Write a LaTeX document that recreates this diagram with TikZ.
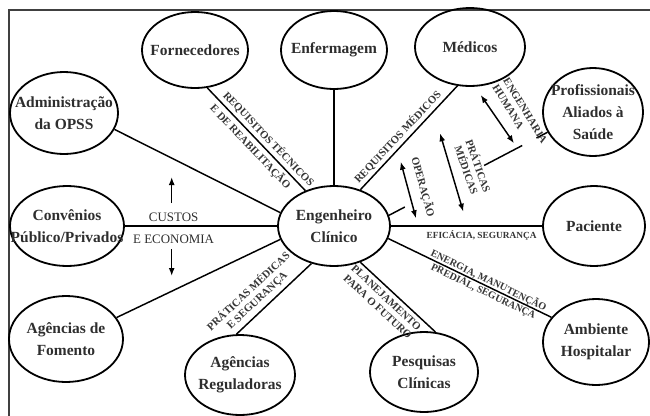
\documentclass[tikz,border=0pt]{standalone}
\usepackage{fontspec}
\setmainfont{Liberation Serif}
\usetikzlibrary{shapes.geometric,arrows.meta,calc}
\definecolor{txt}{HTML}{2E2E2E}
\definecolor{labc}{HTML}{363636}
\definecolor{framec}{HTML}{404040}
\begin{document}
\begin{tikzpicture}[x=0.75pt,y=-0.75pt,
  ent/.style={ellipse, draw, line width=1.35pt, inner sep=0pt},
  enttext/.style={align=center, font=\bfseries\fontsize{11.6}{16.5}\selectfont, text=txt, inner sep=0pt},
  wh/.style 2 args={minimum width=#1*0.75pt, minimum height=#2*0.75pt},
  conn/.style={line width=1.1pt},
  lbl/.style={font=\bfseries\fontsize{8.1}{9.4}\selectfont, text=labc, inner sep=1pt},
  cust/.style={font=\fontsize{9.7}{11}\selectfont, text=txt, inner sep=1pt},
  dbl/.style={line width=1.1pt, {Latex[length=6pt,width=4.5pt]}-{Latex[length=6pt,width=4.5pt]}},
  sgl/.style={line width=1.1pt, -{Latex[length=6pt,width=4.5pt]}}
]
\useasboundingbox (0,0) rectangle (650,415);
\draw[framec, line width=1.5pt] (9,418) -- (9,10) -- (653,10);

% entities
\node[ent, wh={106}{76}, label={[enttext]center:{Fornecedores}}] (forn) at (195,50) {};
\node[ent, wh={106}{78}, label={[enttext]center:{Enfermagem}}] (enf) at (334,50) {};
\node[ent, wh={110}{78}, label={[enttext]center:{Médicos}}] (med) at (470,47) {};
\node[ent, wh={108}{82}, label={[enttext]center:{Administração\\da OPSS}}] (adm) at (64,113) {};
\node[ent, wh={100}{88}, label={[enttext]center:{Profissionais\\Aliados à\\Saúde}}] (prof) at (593,112) {};
\node[ent, wh={114}{80}, label={[enttext]center:{Convênios\\Público/Privados}}] (conv) at (67,226) {};
\node[ent, wh={112}{80}, label={[enttext]center:{Engenheiro\\Clínico}}] (eng) at (334,226) {};
\node[ent, wh={102}{80}, label={[enttext]center:{Paciente}}] (pac) at (594,226) {};
\node[ent, wh={114}{86}, label={[enttext]center:{Agências de\\Fomento}}] (fom) at (66,339) {};
\node[ent, wh={110}{80}, label={[enttext]center:{Agências\\Reguladoras}}] (reg) at (240,375) {};
\node[ent, wh={108}{80}, label={[enttext]center:{Pesquisas\\Clínicas}}] (pesq) at (424,372) {};
\node[ent, wh={106}{86}, label={[enttext]center:{Ambiente\\Hospitalar}}] (amb) at (596,342) {};

% connectors
\draw[conn] (forn.-72) -- node[lbl, sloped, above=1.2pt, pos=0.56]{REQUISITOS TÉCNICOS}
  node[lbl, sloped, below=1.2pt, pos=0.51]{E DE REABILITAÇÃO} (eng.129);
\draw[conn] (enf.south) -- (eng.north);
\draw[conn] (eng.54) -- node[lbl, sloped, above=1pt, pos=0.45]{REQUISITOS MÉDICOS} (med.-108);
\draw[conn] (adm.-18) -- (eng.166);
\draw[conn] (conv.east) -- node[cust, above=1.8pt, pos=0.32]{CUSTOS}
  node[cust, below=5pt, pos=0.32]{E ECONOMIA} (eng.west);
\draw[conn] (eng.east) -- node[lbl, font=\bfseries\fontsize{7}{8}\selectfont, below=2pt, pos=0.6]{EFICÁCIA, SEGURANÇA} (pac.west);
\draw[conn] (fom.23) -- (eng.194);
\draw[conn] (reg.95) -- node[lbl, sloped, above=2pt, pos=0.37, align=center]{PRÁTICAS MÉDICAS\\E SEGURANÇA} (eng.-121);
\draw[conn] (eng.-54) -- node[lbl, sloped, below=2pt, pos=0.42, align=center]{PLANEJAMENTO\\PARA O FUTURO} (pesq.74);
\draw[conn] (eng.-13) -- node[lbl, sloped, pos=0.6, align=center, font=\bfseries\fontsize{7.6}{9}\selectfont]{ENERGIA, MANUTENÇÃO\\PREDIAL, SEGURANÇA} (amb.151);

% engineer -- professionals (partly hidden behind labels)
\coordinate (q1) at ($(eng.11)!0.1!(prof.-156)$);
\coordinate (q2) at ($(eng.11)!0.6!(prof.-156)$);
\coordinate (q3) at ($(eng.11)!0.84!(prof.-156)$);
\coordinate (q4) at ($(eng.11)!0.93!(prof.-156)$);
\draw[conn] (eng.11) -- (q1);
\draw[conn] (q2) -- (q3);
\draw[conn] (q4) -- (prof.-156);

% free labels
\node[lbl, rotate=-58.4, align=left] (lh) at (520,114) {ENGENHARIA\\HUMANA};
\node[lbl, rotate=-70.5, align=center] (lp) at (473,168) {PRÁTICAS\\MÉDICAS};
\node[lbl, rotate=-74.4] (lo) at (423,187) {OPERAÇÃO};

% arrows
\coordinate (a1s) at (480.7,95);   \coordinate (a1e) at (514,143.3);
\coordinate (a2s) at (440,133.3);  \coordinate (a2e) at (463.3,211.7);
\coordinate (a3s) at (400.7,161.7);\coordinate (a3e) at (416,218.3);
\draw[dbl] (a1s) -- (a1e);
\draw[dbl] (a2s) -- (a2e);
\draw[dbl] (a3s) -- (a3e);
\coordinate (u1) at (171.7,203); \coordinate (u2) at (171.7,177);
\coordinate (d1) at (171.7,249); \coordinate (d2) at (171.7,276);
\draw[sgl] (u1) -- (u2);
\draw[sgl] (d1) -- (d2);
\end{tikzpicture}
\end{document}
